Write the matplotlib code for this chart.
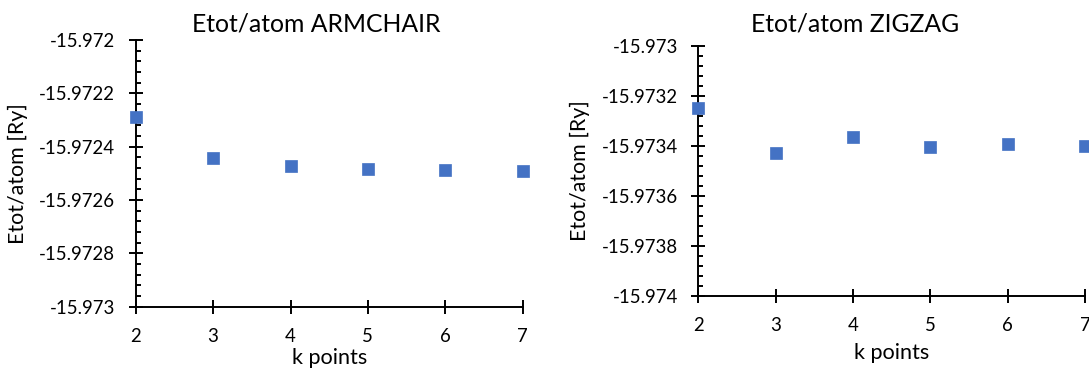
import numpy as np
import matplotlib.pyplot as plt
from matplotlib.ticker import MultipleLocator, FuncFormatter

# k points and total energy per atom [Ry]
k_points = [2, 3, 4, 5, 6, 7]
etot_armchair = [-15.97229, -15.972441, -15.972474, -15.972484, -15.972489, -15.97249]
etot_zigzag = [-15.973249, -15.973429, -15.973366, -15.973405, -15.973392, -15.9734]

ylim_armchair = (-15.973, -15.972)
ylim_zigzag = (-15.974, -15.973)

plt.rcParams['font.family'] = ['Lato', 'DejaVu Sans']
blue = '#4472C4'
W, H = 1089, 369

fig = plt.figure(figsize=(W / 100, H / 100), dpi=100)
renderer = fig.canvas.get_renderer()


def fit_size(s, target_px, size=12, rotation=0):
    # font size so that the text is target_px long on the canvas
    t = fig.text(0, 0, s, fontsize=size, rotation=rotation)
    bb = t.get_window_extent(renderer)
    t.remove()
    length = bb.height if rotation else bb.width
    return size * target_px / length


tick_fs = fit_size('-15.9722', 75.7)
title_fs = fit_size('Etot/atom ARMCHAIR', 248)
xlab_fs = fit_size('k points', 75)
ylab_fs = fit_size('Etot/atom [Ry]', 140, rotation=90)


def fmt(v, pos):
    return f"{v:.4f}".rstrip('0').rstrip('.')


def panel(rect, ydata, ylim, title, title_cx, xlab_y):
    ax = fig.add_axes(rect)
    ax.plot(k_points, ydata, 's', color=blue, markersize=8.4,
            markeredgewidth=0.5, clip_on=False, zorder=3)
    ax.set_xlim(2, 7)
    ax.set_ylim(*ylim)
    ax.set_xticks(k_points)
    ax.yaxis.set_major_locator(MultipleLocator(0.0002))
    ax.yaxis.set_minor_locator(MultipleLocator(0.00004))
    ax.yaxis.set_major_formatter(FuncFormatter(fmt))
    for s in ['top', 'right']:
        ax.spines[s].set_visible(False)
    for s in ['left', 'bottom']:
        ax.spines[s].set_linewidth(1.4)
    ax.tick_params(axis='both', which='major', direction='inout', length=9.4,
                   width=1.4, labelsize=tick_fs, pad=10)
    ax.tick_params(axis='x', pad=10.5)
    ax.tick_params(axis='y', which='minor', direction='in', length=3.8, width=1.4)
    ax.set_xlabel('k points', fontsize=xlab_fs)
    ax.set_ylabel('Etot/atom [Ry]', fontsize=ylab_fs)
    ax.xaxis.set_label_coords(0.5, xlab_y)
    ax.yaxis.set_label_coords(-0.279, 0.5)
    fig.text(title_cx / W, 1 - 31.7 / H, title, fontsize=title_fs,
             ha='center', va='baseline')
    return ax


ax1 = panel([135.7 / W, 1 - 306.7 / H, 387 / W, 266.7 / H],
            etot_armchair, ylim_armchair, 'Etot/atom ARMCHAIR', 316, -0.155)
ax2 = panel([698.3 / W, 1 - 296.3 / H, 386.7 / W, 250.6 / H],
            etot_zigzag, ylim_zigzag, 'Etot/atom ZIGZAG', 855, -0.186)

fig.savefig('out.png', dpi=100)
